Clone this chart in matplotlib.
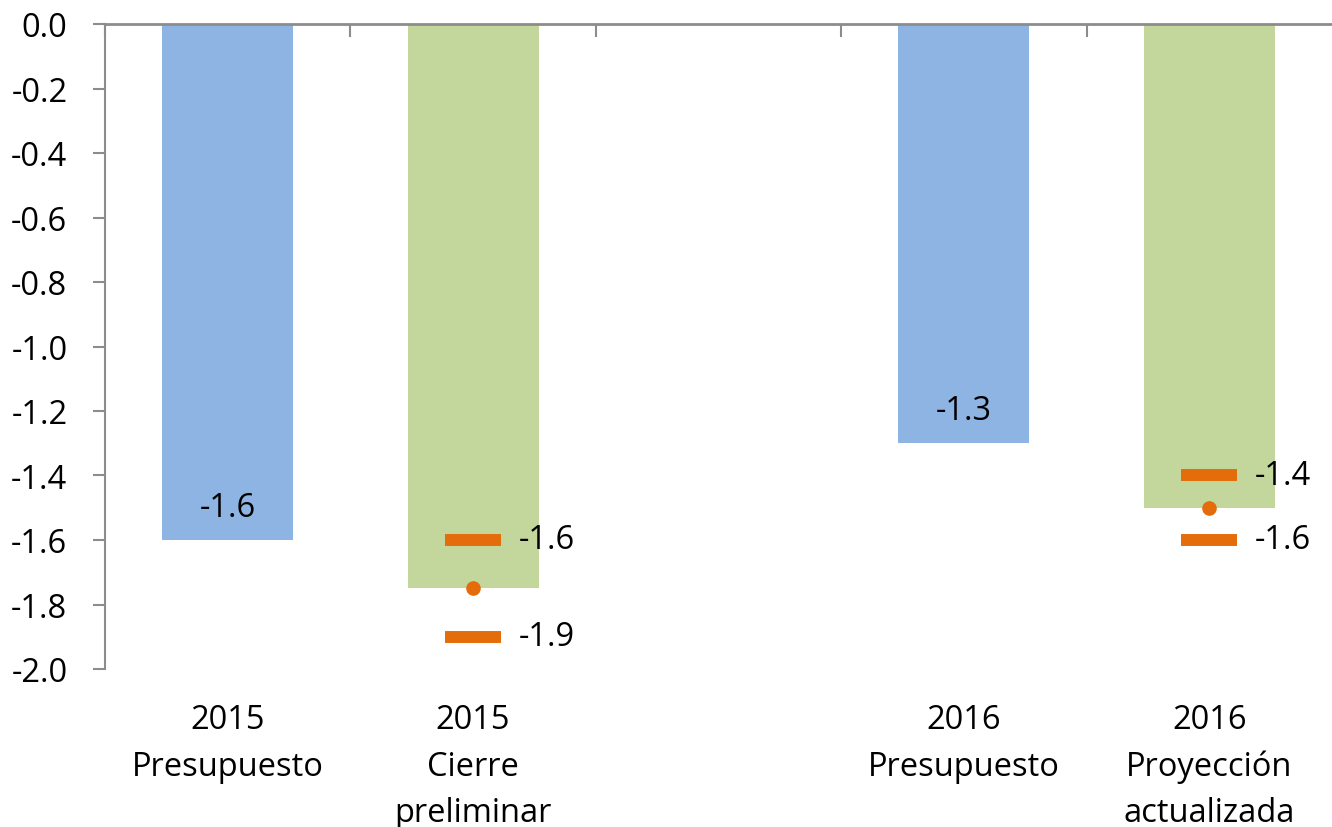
import numpy as np
import matplotlib
matplotlib.use("Agg")
import matplotlib.pyplot as plt
from matplotlib.transforms import blended_transform_factory

plt.rcParams['font.family'] = ['Open Sans', 'DejaVu Sans']

# ---- data ----
years = ["2015", "2015", "", "2016", "2016"]
labels = ["Presupuesto", "Cierre", "", "Presupuesto", "Proyección"]
labels2 = ["", "preliminar", "", "", "actualizada"]
values = [-1.6, -1.75, np.nan, -1.3, -1.5]
bar_colors = ["#8EB4E3", "#C3D69B", "none", "#8EB4E3", "#C3D69B"]
value_labels = ["-1.6", "", "", "-1.3", ""]
range_high = [np.nan, -1.6, np.nan, np.nan, -1.4]
range_low = [np.nan, -1.9, np.nan, np.nan, -1.6]
yticks = [0.0, -0.2, -0.4, -0.6, -0.8, -1.0, -1.2, -1.4, -1.6, -1.8, -2.0]

W, H = 1332, 828
fig = plt.figure(figsize=(W / 100, H / 100), dpi=100)
ax = fig.add_axes([105 / W, 1 - 670 / H, (1332 - 105) / W, (670 - 25) / H])

x = np.arange(len(values))
orange = "#E46C0A"
fs = 23.5

for xi, v, c in zip(x, values, bar_colors):
    if not np.isnan(v):
        ax.bar(xi, v, width=0.534, color=c, zorder=2)

for xi, v, t in zip(x, values, value_labels):
    if t:
        ax.text(xi, v + 0.1, t, ha='center', va='center', fontsize=fs, color='black', zorder=4)

dash_half = 0.114
for xi, v, hi, lo in zip(x, values, range_high, range_low):
    if np.isnan(hi):
        continue
    ax.hlines([hi, lo], xi - dash_half, xi + dash_half, colors=orange, linewidth=8.6,
              capstyle='butt', zorder=3)
    ax.plot([xi], [v], 'o', color=orange, markersize=9.5, zorder=3)
    for yy in (hi, lo):
        ax.text(xi + dash_half + 0.07, yy, f"{yy:.1f}", ha='left', va='center',
                fontsize=fs, color='black', zorder=4)

ax.set_xlim(-0.5, 4.5)
ax.set_ylim(-2.0, 0.0)
ax.set_yticks(yticks)
ax.set_yticklabels([f"{t:.1f}" for t in yticks])

gray = "#8C8C8C"
ax.xaxis.tick_top()
ax.set_xticks(np.arange(-0.5, 4.5, 1.0))
ax.set_xticklabels([])
ax.tick_params(axis='x', direction='in', length=9, width=1.5, color=gray)
ax.tick_params(axis='y', direction='out', length=9, width=1.5, color=gray,
               labelsize=fs, pad=18)
for s in ['right', 'bottom']:
    ax.spines[s].set_visible(False)
ax.spines['left'].set_color(gray)
ax.spines['left'].set_linewidth(1.5)
ax.spines['top'].set_color(gray)
ax.spines['top'].set_linewidth(2)

tr = blended_transform_factory(ax.transData, fig.transFigure)
for xi, y1, l1, l2 in zip(x, years, labels, labels2):
    for txt, base in ((y1, 729), (l1, 776), (l2, 822)):
        if txt:
            ax.text(xi, 1 - base / H, txt, transform=tr, ha='center', va='baseline',
                    fontsize=fs, color='black', clip_on=False)

fig.savefig("out.png", dpi=100)
